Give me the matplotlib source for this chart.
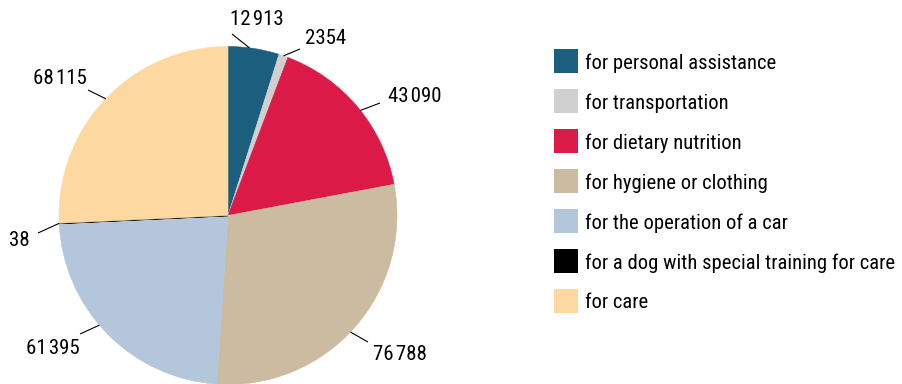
import numpy as np
import matplotlib
matplotlib.use("Agg")
import matplotlib.pyplot as plt
from matplotlib.patches import Rectangle

plt.rcParams['font.family'] = ['Roboto Condensed', 'DejaVu Sans']

# allowance categories and amounts
categories = ['for personal assistance', 'for transportation', 'for dietary nutrition',
              'for hygiene or clothing', 'for the operation of a car',
              'for a dog with special training for care', 'for care']
values = [12913, 2354, 43090, 76788, 61395, 38, 68115]
value_labels = ['12\u200a913', '2354', '43\u200a090', '76\u200a788', '61\u200a395', '38', '68\u200a115']
colors = ['#1b5e7d', '#d0d0d0', '#dc1a47', '#cbbba0', '#b3c6db', '#000000', '#fdd9a1']

# layout in pixels (y down)
W, H = 903, 384
cx, cy, R = 228, 215.5, 169
# leader lines: angle nudge (deg) at the rim, end point, then label placement
leader_nudge = [-1.5, 0, 1.5, 2, 4, 0, 0]
leader_ends = [(232, 34), (300, 49), (380, 103), (368, 342), (80, 334), (38, 233), (88, 90)]
text_offsets = [(-2, -5, 'left', 'bottom'), (5, -11, 'left', 'center'), (8, -7, 'left', 'center'),
                (5, 13, 'left', 'center'), (0, 14, 'right', 'center'), (-8, 7, 'right', 'center'),
                (-1, -11, 'right', 'center')]

fig = plt.figure(figsize=(W / 100, H / 100), dpi=100)
ax = fig.add_axes([0, 0, 1, 1])

# y axis inverted so pixel coords work; counterclock in data = clockwise on screen
wedges, _ = ax.pie(values, colors=colors, center=(cx, cy), radius=R,
                   startangle=-90, counterclock=True,
                   wedgeprops=dict(linewidth=0.4))
for w, c in zip(wedges, colors):
    w.set_edgecolor(c)
wedges[5].set_linewidth(0.9)

ax.set_xlim(0, W)
ax.set_ylim(H, 0)
ax.set_aspect('equal')
ax.axis('off')

total = sum(values)
cum = np.cumsum([0] + values)
for i, lab in enumerate(value_labels):
    frac = (cum[i] + values[i] / 2) / total
    ang = 2 * np.pi * frac + np.radians(leader_nudge[i])
    sx = cx + R * np.sin(ang)
    sy = cy - R * np.cos(ang)
    ex, ey = leader_ends[i]
    ax.plot([sx, ex], [sy, ey], color='black', lw=0.8, solid_capstyle='butt')
    dx, dy, ha, va = text_offsets[i]
    ax.text(ex + dx, ey + dy, lab, ha=ha, va=va, fontsize=15, color='black')

# legend
for i, (name, c) in enumerate(zip(categories, colors)):
    yc = 61 + i * 40
    ax.add_patch(Rectangle((554, yc - 12), 24, 24, facecolor=c, edgecolor='none'))
    ax.text(585, yc + 2, name, ha='left', va='center', fontsize=14.9, color='black')

fig.savefig('out.png', dpi=100)
